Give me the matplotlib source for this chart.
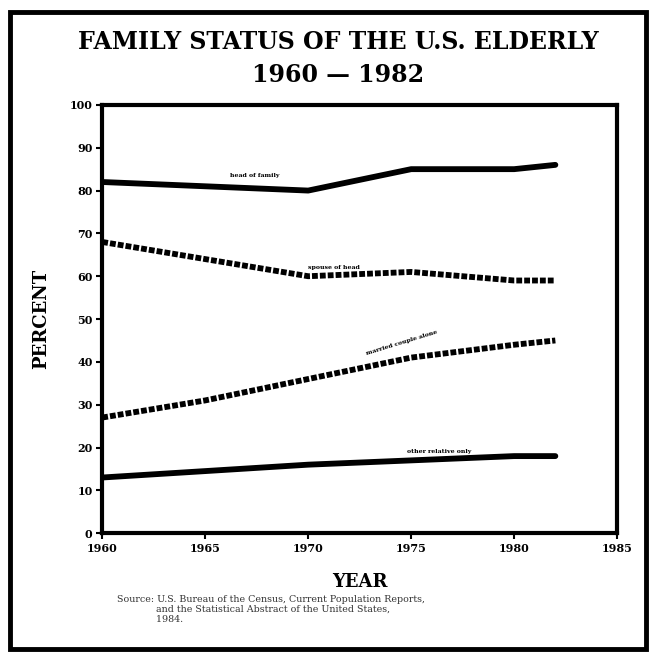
import matplotlib.pyplot as plt
from matplotlib.patches import Rectangle

years = [1960, 1965, 1970, 1975, 1980, 1982]
head_of_family = [82, 81, 80, 85, 85, 86]
spouse_of_head = [68, 64, 60, 61, 59, 59]
married_couple = [27, 31, 36, 41, 44, 45]
other_relative = [13, 14.5, 16, 17, 18, 18]
x_ticks = [1960, 1965, 1970, 1975, 1980, 1985]
y_ticks = [0, 10, 20, 30, 40, 50, 60, 70, 80, 90, 100]

serif = 'DejaVu Serif'
fig = plt.figure(figsize=(6.51, 6.64), dpi=100)
ax = fig.add_axes([0.157, 0.197, 0.791, 0.645])

ax.plot(years, head_of_family, color='black', lw=4.2, solid_capstyle='round')
ax.plot(years, spouse_of_head, color='black', lw=4.2, linestyle=(0, (1.0, 0.35)))
ax.plot(years, married_couple, color='black', lw=4.2, linestyle=(0, (1.0, 0.35)))
ax.plot(years, other_relative, color='black', lw=4.2, solid_capstyle='round')

# small line labels
ax.text(1966.2, 83.2, 'head of family', fontsize=4.5, fontweight='bold', family=serif)
ax.text(1970.0, 61.8, 'spouse of head', fontsize=4.5, fontweight='bold', family=serif)
ax.text(1972.8, 41.5, 'married couple alone', fontsize=4.5, fontweight='bold',
        family=serif, rotation=17)
ax.text(1974.8, 18.8, 'other relative only', fontsize=4.5, fontweight='bold', family=serif)

ax.set_xlim(1960, 1985)
ax.set_ylim(0, 100)
ax.set_xticks(x_ticks)
ax.set_yticks(y_ticks)
ax.set_xticklabels([str(v) for v in x_ticks], fontsize=8, fontweight='bold', family=serif)
ax.set_yticklabels([str(v) for v in y_ticks], fontsize=8, fontweight='bold', family=serif)
ax.tick_params(direction='out', length=4, width=1.5, pad=3)
for s in ax.spines.values():
    s.set_linewidth(3)

ax.set_xlabel('YEAR', fontsize=13, fontweight='bold', family=serif, labelpad=14)
ax.set_ylabel('PERCENT', fontsize=13, fontweight='bold', family=serif, labelpad=14)

fig.text(0.52, 0.955, 'FAMILY STATUS OF THE U.S. ELDERLY', ha='center', va='top',
         fontsize=17, fontweight='bold', family=serif)
fig.text(0.52, 0.905, '1960 \u2014 1982', ha='center', va='top',
         fontsize=17, fontweight='bold', family=serif)

fig.text(0.18, 0.082,
         'Source: U.S. Bureau of the Census, Current Population Reports,\n'
         '             and the Statistical Abstract of the United States,\n'
         '             1984.',
         fontsize=6.8, family=serif, color='#333333', va='center')

fig.patches.append(Rectangle((0.016, 0.022), 0.976, 0.96, transform=fig.transFigure,
                             fill=False, lw=3.5, edgecolor='black'))

fig.savefig('out.png', dpi=100, facecolor='white')
